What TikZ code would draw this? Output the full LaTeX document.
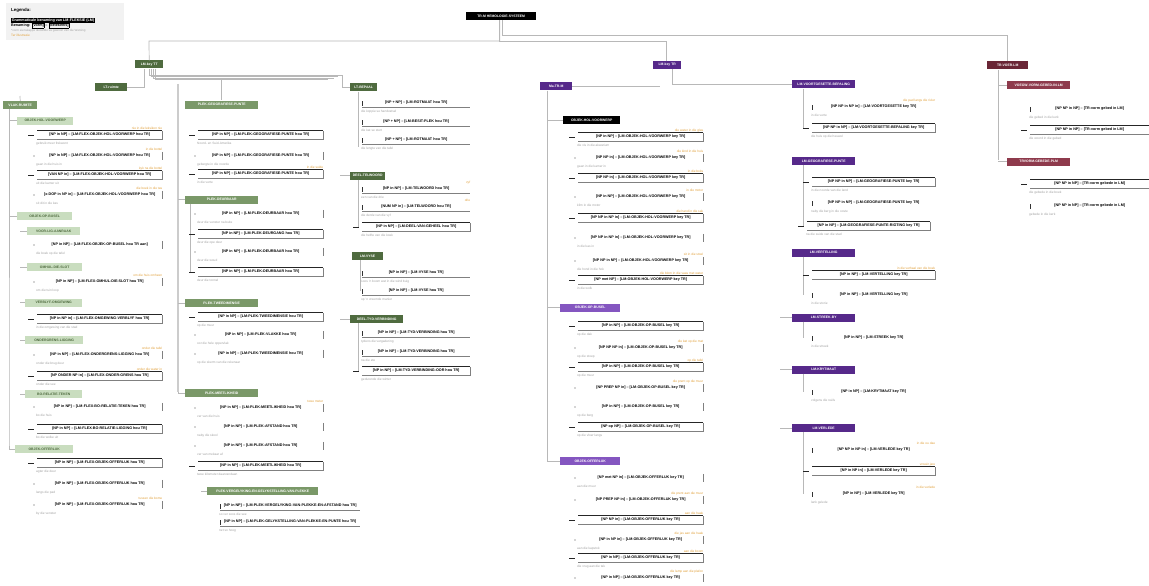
\documentclass[tikz,border=0pt]{standalone}
\usepackage{fontspec}
\setmainfont{Liberation Sans}
\usetikzlibrary{calc}
\definecolor{dkg}{HTML}{4F6B3F}
\definecolor{mdg}{HTML}{7A9868}
\definecolor{ltg}{HTML}{C9DDBF}
\definecolor{pur}{HTML}{56298A}
\definecolor{mpu}{HTML}{8456C0}
\definecolor{mar}{HTML}{6A2636}
\definecolor{mmr}{HTML}{8E3A4C}
\definecolor{orn}{HTML}{E2A23E}
\definecolor{gtx}{HTML}{A2A2A2}
\tikzset{
 hd/.style={anchor=west, inner sep=0pt, minimum height=8, text=white, font=\fontsize{3.4}{4}\selectfont\bfseries, align=center},
 hdd/.style={hd, fill=dkg},
 hdm/.style={hd, fill=mdg},
 hdl/.style={hd, fill=ltg, text=dkg},
 hdp/.style={hd, fill=pur},
 hdq/.style={hd, fill=mpu},
 hdk/.style={hd, fill=black},
 hdr/.style={hd, fill=mar},
 hds/.style={hd, fill=mmr},
 itm/.style={anchor=west, inner sep=0pt, minimum height=8, font=\fontsize{3.7}{4}\selectfont\bfseries, align=center},
 note/.style={anchor=west, inner sep=0pt, text=gtx, font=\fontsize{3.2}{4}\selectfont},
 orl/.style={anchor=south east, inner sep=0pt, text=orn, font=\fontsize{3.2}{4}\selectfont},
 frt/.style={draw=black!85, line width=0.7pt},
 frs/.style={draw=black!50, line width=0.4pt},
 sp/.style={draw=black!28, line width=0.7pt},
 sp2/.style={draw=black!20, line width=1.4pt},
}
\newcommand\HD[6]{\node[#1, minimum width={#4-#3}] (#2) at (#3,#5) {#6};}
\newcommand\IA[6]{%
 \node[itm, minimum width={#3-#2}] (#1) at (#2,#4) {#5};
 \draw[frt] (#1.north west) -- (#1.north east);
 \draw[frs] (#1.north east) -- (#1.south east) -- (#1.south west);
 \draw[frt] ($(#1.west)+(-9,0)$) -- ($(#1.west)+(-3,0)$);
 \node[note] (#1n) at ($(#1.south west)+(-1,4.2)$) {#6};}
\newcommand\IB[6]{%
 \node[itm, minimum width={#3-#2}] (#1) at (#2,#4) {#5};
 \draw[frs] (#1.north east) -- (#1.south east);
 \fill[black!70] ($(#1.west)+(-3,0)$) circle (0.55pt);
 \node[note] (#1n) at ($(#1.south west)+(-1,4.2)$) {#6};}
\newcommand\IC[6]{%
 \node[itm, minimum width={#3-#2}] (#1) at (#2,#4) {#5};
 \draw[line width=0.8pt, black!80] ([yshift=-2.5pt]#1.west) -- ([yshift=2.5pt]#1.west);
 \draw[frs] (#1.south west) -- (#1.south east);
 \node[note] (#1n) at ($(#1.south west)+(-1,4.2)$) {#6};}
\newcommand\ID[6]{%
 \node[itm, minimum width={#3-#2}] (#1) at (#2,#4) {#5};
 \draw[line width=0.8pt, black!80] ([yshift=-2.5pt]#1.west) -- ([yshift=2.5pt]#1.west);
 \node[note] (#1n) at ($(#1.south west)+(-1,4.2)$) {#6};}
\newcommand\OR[3]{\node[orl] (#1) at ($(#2.north east)+(0,-0.6)$) {#3};}
\begin{document}
\begin{tikzpicture}[x=1pt,y=-1pt]
\useasboundingbox (0,0) rectangle (1149,586);
\fill[white] (0,0) rectangle (1149,586);
% ---------------- legend
\node[fill=black!5, minimum width=118, minimum height=37, anchor=north west, inner sep=0] (leg) at (6,3) {};
\node[anchor=west, font=\fontsize{4.4}{5}\selectfont\bfseries, inner sep=0] (leg1) at (11,10) {Legenda:};
\node[anchor=west, fill=black, text=white, font=\fontsize{3.7}{4}\selectfont\bfseries, inner sep=0.6pt] (leg2) at (11,20.5) {Grammaticale benaming van LM-FLEKSIE (LM)};
\node[anchor=west, font=\fontsize{3.7}{4}\selectfont\bfseries, inner sep=0] (leg3) at (11,25.5) {Benaming: \setlength\fboxsep{0.3pt}\setlength\fboxrule{0.3pt}\fbox{[vorm]} -- \fbox{[betekenis]}};
\node[note, font=\fontsize{3}{4}\selectfont] (leg4) at (11,30.5) {*vorm eienskappe dieselfde as gewoon van die Wetsing};
\node[note, text=orn] (leg5) at (11,35) {Ter illustrasie};
% ---------------- title and top links
\HD{hdk}{title}{466}{536}{16}{TR-M HEMOLOGIE-SYSTEEM}
\HD{hdd}{lmtt}{135}{163}{64.5}{LM-key TT}
\HD{hdp}{lmtr}{653}{681}{65}{LM-key TR}
\HD{hdr}{trv}{987}{1028}{65.5}{TR-VOER-LM}
\coordinate (jL) at (149,41);
\coordinate (jR) at (0,36);
\draw[sp] ([xshift=-1.5pt]title.south) |- (jL) -- (lmtt.north);
\draw[sp] ([xshift=-1.5pt]title.south) |- ([xshift=-0.5pt]lmtr.north |- jL) -- ([xshift=-0.5pt]lmtr.north);
\draw[sp, line width=1pt] ([xshift=1.5pt]title.south) |- (trv.north |- jR) -- (trv.north);
% ---------------- LM-key TT branch
\HD{hdd}{lmvorm}{95}{127}{87}{LT-ruimte}
\draw[sp] (lmvorm.east) -| ([xshift=-5pt]lmtt.south);
\coordinate (p1) at (342,75);
\coordinate (p2) at (338,76.5);
\coordinate (p3) at (334,78);
\coordinate (p4) at (328,79.5);
\HD{hdd}{lmbep}{350}{377}{87.5}{LT-BEPAAL}
\draw[sp] ([xshift=0pt]lmtt.south) |- (p1) |- (lmbep.west);
\draw[sp] ([xshift=2pt]lmtt.south) |- (p2);
\draw[sp] ([xshift=4pt]lmtt.south) |- (p3);
\draw[sp] ([xshift=6pt]lmtt.south) |- (p4);
% ---------------- column 1
\HD{hdm}{vlak}{3}{37}{105}{VLAK-RUIMTE}
\coordinate (vt) at (20,96);
\draw[sp] (vt) -- (vlak.north);
\HD{hdl}{objoff1}{15}{73}{449}{OBJEK-OFFERLUK}
\coordinate (c1e) at (9,443);
\draw[sp] (vlak.south -| c1e) -- (c1e) |- (objoff1.west);
\HD{hdl}{objhol1}{17}{73}{120.5}{OBJEK-HOL-VOORWERP}
\draw[sp] (c1e |- objhol1.west) -- (objhol1.west);
\IA{a1}{37}{162}{135}{[NP in NP] -- [LM-FLEX-OBJEK-HOL-VOORWERP hou TR]}{gebruik meer frekwent}
\OR{a1o}{a1}{nie in die leksikon nie}
\IB{a2}{37}{162}{156}{[NP in NP] -- [LM-FLEX-OBJEK-HOL-VOORWERP hou TR]}{gaan in die huis in}
\OR{a2o}{a2}{in die bottel}
\IA{a3}{37}{162}{175}{[VAN NP in] -- [LM-FLEX-OBJEK-HOL-VOORWERP hou TR]}{uit die kamer uit}
\OR{a3o}{a3}{kyk na die bottel}
\IB{a4}{37}{162}{195}{[x-DOP in NP in] -- [LM-FLEX-OBJEK-HOL-VOORWERP hou TR]}{sit dit in die kas}
\OR{a4o}{a4}{die boek in die tas}
\HD{hdl}{objbus1}{17}{72}{216}{OBJEK-OP-BUSEL}
\draw[sp] (c1e |- objbus1.west) -- (objbus1.west);
\coordinate (c1f) at (20,0);
\HD{hdl}{voorlig}{27}{80}{231}{VOOR-LIG-AANRAAK}
\draw[sp] (c1f |- voorlig.west) -- (voorlig.west);
\IB{a5}{37}{162}{245}{[NP in NP] -- [LM-FLEX-OBJEK-OP-BUSEL hou TR aan]}{die boek op die tafel}
\HD{hdl}{omhul}{27}{82}{267}{OMHUL-DIE-SLOT}
\draw[sp] (c1f |- omhul.west) -- (omhul.west);
\IB{a6}{37}{162}{282}{[NP in NP] -- [LM-FLEX-OMHUL-DIE-SLOT hou TR]}{om die tuin loop}
\OR{a6o}{a6}{om die huis omheen}
\HD{hdl}{verbly}{25}{82}{302.5}{VERBLYF-OMGEWING}
\draw[sp] (c1f |- verbly.west) -- (verbly.west);
\IA{a7}{37}{162}{319}{[NP in NP in] -- [LM-FLEX-OMGEWING-VERBLYF hou TR]}{in die omgewing van die stad}
\HD{hdl}{onderg}{25}{83}{340}{ONDERGRENS-LIGGING}
\draw[sp] (c1f |- onderg.west) -- (onderg.west);
\IB{a8}{37}{162}{355}{[NP in NP] -- [LM-FLEX-ONDERGRENS-LIGGING hou TR]}{onder die brug deur}
\OR{a8o}{a8}{onder die tafel}
\IA{a9}{37}{162}{376}{[NP ONDER NP in] -- [LM-FLEX-ONDER-GRENS hou TR]}{onder die see}
\OR{a9o}{a9}{onder die water in}
\HD{hdl}{boteken}{25}{82}{394}{BO-RELATIE-TEKEN}
\draw[sp] (c1f |- boteken.west) -- (boteken.west);
\IB{a10}{37}{162}{407}{[NP in NP] -- [LM-FLEX-BO-RELATIE-TEKEN hou TR]}{bo die huis}
\IA{a11}{37}{162}{429}{[NP in NP] -- [LM-FLEX-BO-RELATIE-LIGGING hou TR]}{bo die wolke uit}
\IA{a12}{37}{162}{463}{[NP in NP] -- [LM-FLEX-OBJEK-OFFERLUK hou TR]}{agter die deur}
\IB{a13}{37}{162}{484}{[NP in NP] -- [LM-FLEX-OBJEK-OFFERLUK hou TR]}{langs die pad}
\IB{a14}{37}{162}{505}{[NP in NP] -- [LM-FLEX-OBJEK-OFFERLUK hou TR]}{by die venster}
\OR{a14o}{a14}{tussen die bome}
% ---------------- column 2
\coordinate (c2t) at (178,84);
\coordinate (c2b) at (178,392);
\draw[sp2] (c2t) -- (c2b);
\HD{hdm}{plekgeo}{185}{258}{104.5}{PLEK-GEOGRAFIESE-PUNTE}
\draw[sp] (plekgeo.north |- p4) -- (plekgeo.north);
\IA{g1}{198}{323}{135}{[NP in NP] -- [LM-PLEK-GEOGRAFIESE-PUNTE hou TR]}{Noord- en Suid-Amerika}
\IB{g2}{198}{323}{156}{[NP in NP] -- [LM-PLEK-GEOGRAFIESE-PUNTE hou TR]}{gebergte in die noorde}
\IA{g3}{198}{323}{174}{[NP in NP] -- [LM-PLEK-GEOGRAFIESE-PUNTE hou TR]}{in die verte}
\OR{g3o}{g3}{in die suide}
\HD{hdm}{plekdeur}{185}{258}{199.5}{PLEK-DEURBAAR}
\draw[sp] (c2b |- plekdeur.west) -- (plekdeur.west);
\coordinate (d0) at (190,272);
\draw[sp] (plekdeur.south -| d0) -- (d0);
\IB{d1}{198}{323}{214}{[NP in NP] -- [LM-PLEK-DEURBAAR hou TR]}{deur die venster na buite}
\IA{d2}{198}{323}{234}{[NP in NP] -- [LM-PLEK-DEURGANG hou TR]}{deur die ope deur}
\IB{d3}{198}{323}{252}{[NP in NP] -- [LM-PLEK-DEURBAAR hou TR]}{deur die woud}
\IA{d4}{198}{323}{272}{[NP in NP] -- [LM-PLEK-DEURBAAR hou TR]}{deur die tonnel}
\HD{hdm}{plektwee}{185}{258}{303}{PLEK-TWEEDIMENSIE}
\draw[sp] (c2b |- plektwee.west) -- (plektwee.west);
\IA{t1}{198}{323}{317}{[NP in NP] -- [LM-PLEK-TWEEDIMENSIE hou TR]}{op die muur}
\IB{t2}{198}{323}{335}{[NP in NP] -- [LM-PLEK-VLAKKE hou TR]}{oor die hele oppervlak}
\IB{t3}{198}{323}{354}{[NP in NP] -- [LM-PLEK-TWEEDIMENSIE hou TR]}{op die skerm van die rekenaar}
\HD{hdm}{plekmeet}{185}{258}{393}{PLEK-MEETLIKHEID}
\draw[sp] (c2b) |- (plekmeet.west);
\IB{m1}{198}{323}{408}{[NP in NP] -- [LM-PLEK-MEETLIKHEID hou TR]}{ver van die huis}
\OR{m1o}{m1}{twee meter}
\IB{m2}{198}{323}{427}{[NP in NP] -- [LM-PLEK-AFSTAND hou TR]}{naby die skool}
\IB{m3}{198}{323}{446}{[NP in NP] -- [LM-PLEK-AFSTAND hou TR]}{ver van mekaar af}
\IA{m4}{198}{323}{466}{[NP in NP] -- [LM-PLEK-MEETLIKHEID hou TR]}{twee kilometer daarvandaan}
\HD{hdm}{plekverg}{207}{318}{491}{PLEK-VERGELYKING-EN-GELYKSTELLING-VAN-PLEKKE}
\coordinate (v0) at (201,491);
\draw[sp] (v0) -- (plekverg.west);
\IC{v1}{220}{360}{506}{[NP in NP] -- [LM-PLEK-VERGELYKING-VAN-PLEKKE-EN-AFSTAND hou TR]}{so ver soos die see}
\IC{v2}{220}{360}{522}{[NP in NP] -- [LM-PLEK-GELYKSTELLING-VAN-PLEKKE-EN-PUNTE hou TR]}{net so hoog}
% ---------------- column 3
\coordinate (b0) at (358,147);
\draw[sp] (lmbep.south -| b0) -- (b0);
\IC{b1}{362}{470}{103}{[NP + NP] -- [LM-ROTMAAT hou TR]}{die koppie se handvatsel}
\IC{b2}{362}{470}{122}{[NP + NP] -- [LM-BESIT-PLEK hou TR]}{die kat se stert}
\IC{b3}{362}{470}{140}{[NP + NP] -- [LM-ROTMAAT hou TR]}{die lengte van die tafel}
\HD{hdd}{deeltel}{350}{385}{175.5}{DEEL-TELWOORD}
\coordinate (q2) at (340,175.5);
\draw[sp] (q2) -- (deeltel.west);
\coordinate (e0) at (358,227);
\draw[sp] (deeltel.south -| e0) -- (e0);
\IC{e1}{362}{470}{189}{[NP in NP] -- [LM-TELWOORD hou TR]}{een van die drie}
\OR{e1o}{e1}{vyf}
\IC{e2}{362}{470}{207}{[NUM NP in] -- [LM-TELWOORD hou TR]}{die derde van die vyf}
\OR{e2o}{e2}{drie}
\IA{e3}{362}{470}{227}{[NP in NP] -- [LM-DEEL-VAN-GEHEEL hou TR]}{die helfte van die koek}
\HD{hdd}{lmvyse}{352}{383}{256}{LM-VYSE}
\coordinate (f0) at (360,291);
\draw[sp] (lmvyse.south -| f0) -- (f0);
\IC{f1}{362}{470}{273}{[NP in NP] -- [LM-VYSE hou TR]}{soos 'n boom wat in die wind buig}
\IC{f2}{362}{470}{291}{[NP in NP] -- [LM-VYSE hou TR]}{op 'n vreemde manier}
\HD{hdd}{deeltyd}{350}{403}{319}{DEEL-TYD-VERBINDING}
\coordinate (q3) at (340,319);
\draw[sp] (q3) -- (deeltyd.west);
\coordinate (h0) at (358,371);
\draw[sp] (deeltyd.south -| h0) -- (h0);
\IC{h1}{362}{470}{333}{[NP in NP] -- [LM-TYD-VERBINDING hou TR]}{tydens die vergadering}
\IC{h2}{362}{470}{352}{[NP in NP] -- [LM-TYD-VERBINDING hou TR]}{na die ete}
\IA{h3}{362}{470}{371}{[NP in NP] -- [LM-TYD-VERBINDING-OOR hou TR]}{gedurende die winter}
% ---------------- column 4
\HD{hdp}{lijn}{540}{572}{86.5}{Ma-TR-M}
\coordinate (lj) at (660,86.5);
\draw[sp] (lijn.east) -- (lj);
\coordinate (c4b) at (547,461);
\HD{hdq}{objoff4}{560}{620}{461}{OBJEK-OFFERLUK}
\draw[sp] (lijn.south west -| c4b) -- (c4b) -- (objoff4.west);
\HD{hdk}{objhol4}{563}{620}{120}{OBJEK-HOL-VOORWERP}
\draw[sp] (c4b |- objhol4.west) -- (objhol4.west);
\IA{p11}{578}{703}{137}{[NP in NP] -- [LM-OBJEK-HOL-VOORWERP key TR]}{die vis in die akwarium}
\OR{p11o}{p11}{die water in die glas}
\IB{p12}{578}{703}{158}{[NP NP in] -- [LM-OBJEK-HOL-VOORWERP key TR]}{gaan in die kamer in}
\OR{p12o}{p12}{die kind in die huis}
\IA{p13}{578}{703}{178}{[NP NP in] -- [LM-OBJEK-HOL-VOORWERP key TR]}{}
\OR{p13o}{p13}{in die boks}
\IB{p14}{578}{703}{197}{[NP in NP] -- [LM-OBJEK-HOL-VOORWERP key TR]}{klim in die motor}
\OR{p14o}{p14}{in die motor}
\IA{p15}{578}{703}{218}{[NP NP in NP in] -- [LM-OBJEK-HOL-VOORWERP key TR]}{}
\OR{p15o}{p15}{die hand in die sak}
\IB{p16}{578}{703}{238}{[NP NP in NP in] -- [LM-OBJEK-HOL-VOORWERP key TR]}{in die kas in}
\IB{p17}{578}{703}{261}{[NP NP in NP] -- [LM-OBJEK-HOL-VOORWERP key TR]}{die hond in die hok}
\OR{p17o}{p17}{sit in die stoel}
\IA{p18}{578}{703}{280}{[NP met NP] -- [LM-OBJEK-HOL-VOORWERP key TR]}{in die wolk}
\OR{p18o}{p18}{die blom in die vaas met water}
\HD{hdq}{objbus4}{560}{620}{307.5}{OBJEK-OP-BUSEL}
\draw[sp] (c4b |- objbus4.west) -- (objbus4.west);
\IA{q11}{578}{703}{326}{[NP in NP] -- [LM-OBJEK-OP-BUSEL key TR]}{op die dak}
\IB{q12}{578}{703}{348}{[NP NP NP in] -- [LM-OBJEK-OP-BUSEL key TR]}{op die stoep}
\OR{q12o}{q12}{die kat op die mat}
\IA{q13}{578}{703}{367}{[NP in NP] -- [LM-OBJEK-OP-BUSEL key TR]}{op die muur}
\OR{q13o}{q13}{op die tafel}
\IB{q14}{578}{703}{388}{[NP PREP NP in] -- [LM-OBJEK-OP-BUSEL key TR]}{}
\OR{q14o}{q14}{die prent op die muur}
\IB{q15}{578}{703}{407}{[NP in NP] -- [LM-OBJEK-OP-BUSEL key TR]}{op die berg}
\IA{q16}{578}{703}{427}{[NP op NP] -- [LM-OBJEK-OP-BUSEL key TR]}{op die vloer langs}
\IB{r11}{578}{703}{478}{[NP met NP in] -- [LM-OBJEK-OFFERLUK key TR]}{aan die muur}
\IB{r12}{578}{703}{500}{[NP PREP NP in] -- [LM-OBJEK-OFFERLUK key TR]}{}
\OR{r12o}{r12}{die prent aan die muur}
\IA{r13}{578}{703}{520}{[NP NP in] -- [LM-OBJEK-OFFERLUK key TR]}{}
\OR{r13o}{r13}{aan die haak}
\IB{r14}{578}{703}{540}{[NP in NP in] -- [LM-OBJEK-OFFERLUK key TR]}{aan die kapstok}
\OR{r14o}{r14}{die jas aan die haak}
\IA{r15}{578}{703}{558}{[NP in NP] -- [LM-OBJEK-OFFERLUK key TR]}{die vrug aan die tak}
\OR{r15o}{r15}{aan die boom}
\IB{r16}{578}{703}{578}{[NP in NP] -- [LM-OBJEK-OFFERLUK key TR]}{}
\OR{r16o}{r16}{die lamp aan die plafon}
% ---------------- column 5
\HD{hdp}{voort}{792}{855}{84.5}{LM-VOORTGESETTE-BEPALING}
\draw[sp, line width=1.2pt] ([xshift=5pt]lmtr.south) |- (voort.west);
\coordinate (c5x) at (780,0);
\coordinate (s0) at (803,128);
\draw[sp] (voort.south -| s0) -- (s0);
\ID{s1}{812}{935}{107}{[NP NP in NP in] -- [LM-VOORTGESETTE key TR]}{in die verte}
\OR{s1o}{s1}{die pad langs die rivier}
\IA{s2}{812}{935}{128}{[NP NP in NP] -- [LM-VOORTGESETTE-BEPALING key TR]}{die huis op die heuwel}
\HD{hdp}{geo5}{792}{855}{161}{LM-GEOGRAFIESE-PUNTE}
\coordinate (u0) at (803,226);
\draw[sp] (geo5.south -| u0) -- (u0);
\IA{u1}{812}{935}{182}{[NP NP in NP] -- [LM-GEOGRAFIESE-PUNTE key TR]}{in die noorde van die land}
\ID{u2}{812}{935}{203}{[NP NP in NP] -- [LM-GEOGRAFIESE-PUNTE key TR]}{naby die berg in die ooste}
\IA{u3}{807}{930}{226}{[NP in NP] -- [LM-GEOGRAFIESE-PUNTE-RIGTING key TR]}{na die suide van die stad}
\HD{hdp}{vert5}{792}{855}{252.5}{LM-VERTELLING}
\coordinate (w0) at (803,295);
\draw[sp] (vert5.south -| w0) -- (w0);
\IA{w1}{812}{935}{275}{[NP in NP] -- [LM-VERTELLING key TR]}{}
\OR{w1o}{w1}{in die verhaal van die boek}
\ID{w2}{812}{935}{295}{[NP in NP] -- [LM-VERTELLING key TR]}{in die storie}
\HD{hdp}{steek5}{792}{855}{317.5}{LM-STREEK-BY}
\draw[sp] (c5x |- steek5.west) -- (steek5.west);
\coordinate (x0) at (803,338);
\draw[sp] (steek5.south -| x0) -- (x0);
\ID{x1}{812}{935}{338}{[NP in NP] -- [LM-STREEK key TR]}{in die streek}
\HD{hdp}{kryt5}{792}{855}{369.5}{LM-KRYTMAAT}
\draw[sp] (c5x |- kryt5.west) -- (kryt5.west);
\coordinate (y0) at (803,392);
\draw[sp] (kryt5.south -| y0) -- (y0);
\ID{y1}{812}{935}{392}{[NP in NP] -- [LM-KRYTMAAT key TR]}{volgens die re\"els}
\HD{hdp}{verl5}{792}{855}{428}{LM-VERLEDE}
\draw[sp] (c5x |- verl5.west) -- (verl5.west);
\coordinate (z0) at (803,494);
\draw[sp] (verl5.south -| z0) -- (z0);
\ID{z1}{812}{935}{450}{[NP NP in NP in] -- [LM-VERLEDE key TR]}{}
\OR{z1o}{z1}{in die ou dae}
\IA{z2}{812}{935}{471}{[NP in NP in] -- [LM-VERLEDE key TR]}{}
\OR{z2o}{z2}{vroe\"er jare}
\ID{z3}{812}{935}{494}{[NP in NP] -- [LM-VERLEDE key TR]}{lank gelede}
\OR{z3o}{z3}{in die verlede}
% ---------------- column 6
\HD{hds}{gebed}{1007}{1070}{85.5}{VOEGW-VORM-GEBED-IN-LM}
\HD{hds}{trgeb}{1007}{1070}{161.5}{TRVORM-GEBEDE-PLM}
\coordinate (k0) at (998,160);
\draw[sp] (trv.south -| k0) -- (k0);
\draw[sp] (k0 |- gebed.west) -- (gebed.west);
\draw[sp] (k0 |- trgeb.west) -- (trgeb.west);
\ID{k1}{1030}{1149}{109}{[NP NP in NP] -- [TR-vorm gebed in LM]}{die gebed in die kerk}
\IA{k2}{1030}{1149}{130}{[NP NP in NP] -- [TR-vorm gebed in LM]}{die woord in die gebed}
\IA{k3}{1030}{1149}{184}{[NP NP in NP] -- [TR-vorm gebede in LM]}{die gebede in die boek}
\ID{k4}{1030}{1149}{206}{[NP NP in NP] -- [TR-vorm gebede in LM]}{gebede in die kerk}
\end{tikzpicture}
\end{document}
